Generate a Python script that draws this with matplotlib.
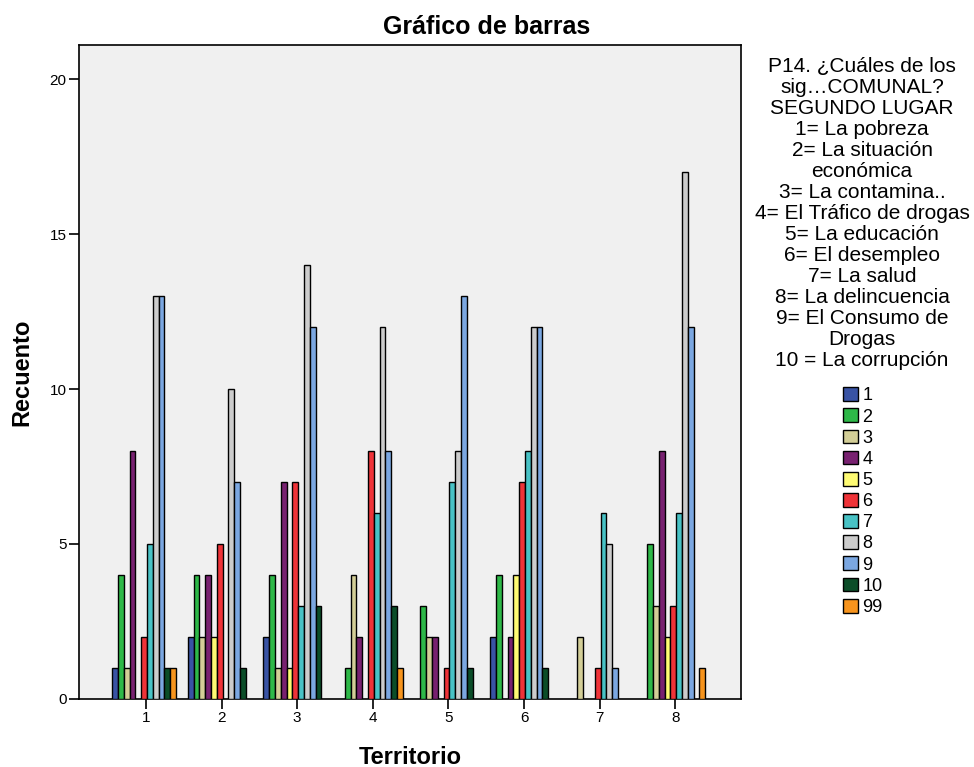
import matplotlib
matplotlib.use("Agg")
import matplotlib.pyplot as plt
import matplotlib.patches as mpatches
import numpy as np

plt.rcParams['font.family'] = ['Liberation Sans', 'DejaVu Sans']

# --- data ---
territorios = [1, 2, 3, 4, 5, 6, 7, 8]
categorias = ['1', '2', '3', '4', '5', '6', '7', '8', '9', '10', '99']
colores = ['#3953A4', '#2EB848', '#D3CE97', '#782170', '#FEFB73', '#EF3338',
           '#48C2C5', '#CCCCCC', '#7BA7E1', '#0B4D28', '#F7941D']

# counts per category (rows) for territorio 1..8 (columns)
cat_1 = [1, 2, 2, 0, 0, 2, 0, 0]
cat_2 = [4, 4, 4, 1, 3, 4, 0, 5]
cat_3 = [1, 2, 1, 4, 2, 0, 2, 3]
cat_4 = [8, 4, 7, 2, 2, 2, 0, 8]
cat_5 = [0, 2, 1, 0, 0, 4, 0, 2]
cat_6 = [2, 5, 7, 8, 1, 7, 1, 3]
cat_7 = [5, 0, 3, 6, 7, 8, 6, 6]
cat_8 = [13, 10, 14, 12, 8, 12, 5, 17]
cat_9 = [13, 7, 12, 8, 13, 12, 1, 12]
cat_10 = [1, 1, 3, 3, 1, 1, 0, 0]
cat_99 = [1, 0, 0, 1, 0, 0, 0, 1]
recuentos = [cat_1, cat_2, cat_3, cat_4, cat_5, cat_6, cat_7, cat_8,
             cat_9, cat_10, cat_99]

titulo_leyenda = ("P14. ¿Cuáles de los\nsig…COMUNAL?\nSEGUNDO LUGAR\n"
                  "1= La pobreza\n2= La situación\neconómica\n3= La contamina..\n"
                  "4= El Tráfico de drogas\n5= La educación\n6= El desempleo\n"
                  "7= La salud\n8= La delincuencia\n9= El Consumo de\nDrogas\n"
                  "10 = La corrupción")

fig = plt.figure(figsize=(9.74, 7.67), dpi=100)
ax = fig.add_axes([0.0811, 0.0887, 0.6797, 0.8527])
ax.set_facecolor('#F0F0F0')

x = np.array(territorios, dtype=float)
w = 0.0767
n = len(categorias)
for i, (vals, col) in enumerate(zip(recuentos, colores)):
    off = (i - (n - 1) / 2) * w - 0.025
    v = np.array(vals, dtype=float)
    mask = v > 0
    ax.bar(x[mask] + off, v[mask], width=w, color=col, edgecolor='black',
           linewidth=1.0, zorder=3)

ax.set_xlim(0.114, 8.87)
ax.set_ylim(0, 21.1)
ax.set_xticks(territorios)
ax.set_yticks([0, 5, 10, 15, 20])
ax.tick_params(axis='both', direction='out', length=7, width=1.2,
               labelsize=11, pad=2)
for s in ax.spines.values():
    s.set_linewidth(1.2)

fig.text(0.5, 1 - 27 / 767, 'Gráfico de barras', ha='center', va='center',
         fontsize=18, fontweight='bold')
fig.text(22 / 974, 1 - 372 / 767, 'Recuento', rotation=90, ha='center',
         va='center', fontsize=17, fontweight='bold')
fig.text(410 / 974, 1 - 757 / 767, 'Territorio', ha='center', va='center',
         fontsize=17, fontweight='bold')

fig.text(862 / 974, 1 - 57 / 767, titulo_leyenda, ha='center', va='top',
         fontsize=15, linespacing=1.135, multialignment='center')

handles = [mpatches.Patch(facecolor=c, edgecolor='black', linewidth=1.0)
           for c in colores]
fig.legend(handles, categorias, loc='upper left',
           bbox_to_anchor=(836 / 974, 1 - 380 / 767), frameon=False,
           fontsize=13, handlelength=0.8, handleheight=0.8,
           handletextpad=0.25, labelspacing=0.22, borderaxespad=0)

fig.savefig('out.png', dpi=100)
